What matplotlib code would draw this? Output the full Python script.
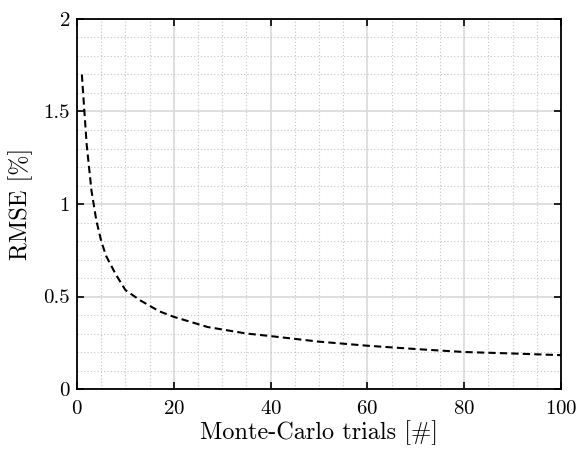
import matplotlib
matplotlib.use("Agg")
import matplotlib.pyplot as plt
from matplotlib.ticker import MultipleLocator, FormatStrFormatter

plt.rcParams['font.family'] = 'serif'
plt.rcParams['font.serif'] = ['cmr10']
plt.rcParams['mathtext.fontset'] = 'cm'
plt.rcParams['axes.formatter.use_mathtext'] = True

# RMSE vs number of Monte-Carlo trials
trials = [1, 2, 3, 4, 5, 6, 8, 10, 13, 17, 20, 27, 35, 40, 50, 60, 70, 80, 90, 100]
rmse = [1.70, 1.32, 1.07, 0.91, 0.80, 0.72, 0.62, 0.535, 0.48, 0.42, 0.39,
        0.335, 0.30, 0.286, 0.256, 0.234, 0.216, 0.200, 0.192, 0.183]

fig = plt.figure(figsize=(5.79, 4.49), dpi=100)
ax = fig.add_axes([0.133, 0.1336, 0.836, 0.8241])

ax.plot(trials, rmse, color='black', linestyle=(0, (3.5, 2)), linewidth=1.5)

ax.set_xlim(0, 100)
ax.set_ylim(0, 2)
ax.xaxis.set_major_locator(MultipleLocator(20))
ax.yaxis.set_major_locator(MultipleLocator(0.5))
ax.xaxis.set_minor_locator(MultipleLocator(5))
ax.yaxis.set_minor_locator(MultipleLocator(0.1))
ax.yaxis.set_major_formatter(FormatStrFormatter('%g'))

ax.grid(True, which='major', color='#d9d9d9', linewidth=1.2, linestyle='-')
ax.grid(True, which='minor', color='#c4c4c4', linewidth=0.8, linestyle=(0, (1, 2)))
ax.set_axisbelow(True)

ax.tick_params(which='major', direction='in', length=5, width=1.2,
               top=True, right=True, labelsize=15)
ax.tick_params(axis='x', pad=8)
ax.tick_params(axis='y', pad=5)
ax.tick_params(which='minor', length=0)
for s in ax.spines.values():
    s.set_linewidth(1.3)

ax.set_xlabel('Monte-Carlo trials [#]', fontsize=17.5)
ax.set_ylabel('RMSE [%]', fontsize=17.5)
ax.xaxis.set_label_coords(0.5, -0.084)
ax.yaxis.set_label_coords(-0.091, 0.5)

fig.savefig('out.png', dpi=100)
